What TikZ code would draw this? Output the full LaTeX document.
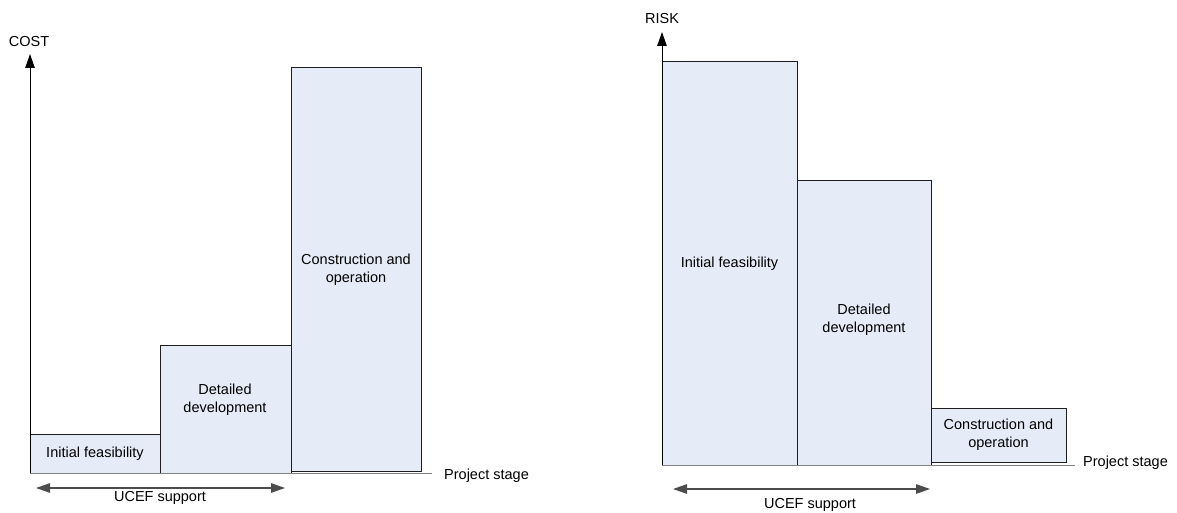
\documentclass[tikz,border=0pt]{standalone}
\usepackage{fontspec}
\setmainfont{Liberation Sans}
\usetikzlibrary{arrows.meta}
\definecolor{barfill}{HTML}{E6ECF7}
\definecolor{barline}{HTML}{1E1E1E}
\definecolor{baseline}{HTML}{808080}
\tikzset{
  bar/.style={draw=barline, fill=barfill, line width=1pt, inner sep=0pt, outer sep=0pt},
  txt/.style={font=\fontsize{14.5}{18}\selectfont, align=center, inner sep=0pt, text=black},
  yaxis/.style={draw=black, line width=1pt, -{Triangle[length=14pt,width=9.5pt]}},
  xaxis/.style={draw=baseline, line width=1pt},
  span/.style={draw=black!70, line width=1.2pt, {Triangle[length=14pt,width=9.5pt]}-{Triangle[length=14pt,width=9.5pt]}}
}
\begin{document}
\begin{tikzpicture}[x=1pt,y=-1pt]
\useasboundingbox (0,0) rectangle (1177,513);
% ---------- left chart: COST ----------
\coordinate (o1) at (30,473);
\coordinate (y1) at (30,54);
\coordinate (x1) at (432,473);
\node[bar, minimum width=130pt, minimum height=39pt, anchor=north west] (L1) at (30,434) {};
\node[bar, minimum width=131pt, minimum height=128pt, anchor=north west] (L2) at (160,345) {};
\node[bar, minimum width=130pt, minimum height=403pt, anchor=north west] (L3) at (291,68) {};
\draw[xaxis] (o1) -- (x1);
\draw[yaxis] (o1) -- (y1);
\node[txt] (L1t) at (L1.center) {Initial feasibility};
\node[txt] (L2t) at (225,400) {Detailed\\development};
\node[txt] (L3t) at (L3.center) {Construction and\\operation};
\node[txt] (cost) at (29,42) {COST};
\node[txt, anchor=west] (ps1) at (444,476) {Project stage};
\coordinate (a1) at (36,488);
\coordinate (b1) at (285,488);
\draw[span] (a1) -- (b1);
\node[txt] (u1) at (160,498) {UCEF support};
% ---------- right chart: RISK ----------
\coordinate (o2) at (662,465);
\coordinate (y2) at (662,32);
\coordinate (x2) at (1075,465);
\node[bar, minimum width=135pt, minimum height=403pt, anchor=north west] (R1) at (662,62) {};
\node[bar, minimum width=134pt, minimum height=284pt, anchor=north west] (R2) at (797,181) {};
\node[bar, minimum width=135pt, minimum height=54pt, anchor=north west] (R3) at (931,408) {};
\draw[xaxis] (o2) -- (x2);
\draw[yaxis] (o2) -- (y2);
\node[txt] (R1t) at (R1.center) {Initial feasibility};
\node[txt] (R2t) at (864,320) {Detailed\\development};
\node[txt] (R3t) at (R3.center) {Construction and\\operation};
\node[txt] (risk) at (662,19) {RISK};
\node[txt, anchor=west] (ps2) at (1083,463) {Project stage};
\coordinate (a2) at (673,489);
\coordinate (b2) at (930,489);
\draw[span] (a2) -- (b2);
\node[txt] (u2) at (810,505) {UCEF support};
\end{tikzpicture}
\end{document}
